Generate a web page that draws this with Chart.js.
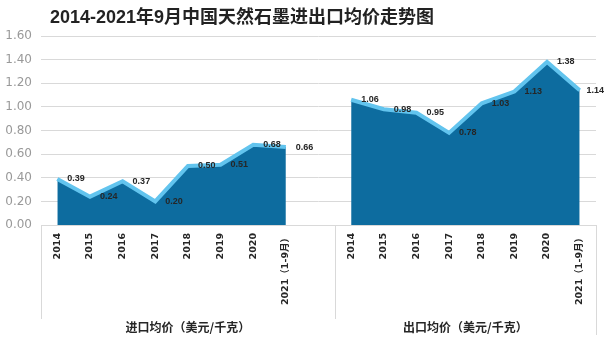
<!DOCTYPE html>
<html>
<head>
<meta charset="utf-8">
<script src="https://cdn.jsdelivr.net/npm/chart.js@4"></script>
<style>
  html, body { margin: 0; padding: 0; background: #fff; }
  #wrap { width: 608px; height: 350px; }
</style>
</head>
<body>
<div id="wrap"><canvas id="priceChart" width="608" height="350"></canvas></div>
<script>
// Chart texts
var chartTitle = '2014-2021年9月中国天然石墨进出口均价走势图';
var groupNames = ['进口均价（美元/千克）', '出口均价（美元/千克）'];

// Year labels, the same for both groups
var years = ['2014', '2015', '2016', '2017', '2018', '2019', '2020', '2021（1-9月）'];

// Average prices, USD per kg
var importPrice = [0.39, 0.24, 0.37, 0.20, 0.50, 0.51, 0.68, 0.66];
var exportPrice = [1.06, 0.98, 0.95, 0.78, 1.03, 1.13, 1.38, 1.14];

// Value axis
var yMin = 0;
var yMax = 1.6;
var yStep = 0.2;

// Colors
var areaColor = '#0d6c9f';
var edgeColor = '#62c4ee';
var gridColor = '#d9d9d9';
var textColor = '#262626';

// One empty slot closes the import group, then the export group follows
var labels = years.concat(['']).concat(years);
var gap = years.length + 1;
var importData = importPrice.concat(new Array(gap).fill(null));
var exportData = new Array(gap).fill(null).concat(exportPrice);
var groupStarts = [0, gap];
var groupEnds = [gap - 1, labels.length - 1];

// Value labels to the right of every point, title and group captions
var extrasPlugin = {
    id: 'extras',
    afterDatasetsDraw: function(chart) {
        var ctx = chart.ctx;
        ctx.save();
        ctx.font = 'bold 9px "Liberation Sans", Arial, sans-serif';
        ctx.fillStyle = textColor;
        ctx.textBaseline = 'middle';
        ctx.textAlign = 'left';
        chart.data.datasets.forEach(function(ds, i) {
            var meta = chart.getDatasetMeta(i);
            meta.data.forEach(function(pt, j) {
                var v = ds.data[j];
                if (v === null) return;
                var txt = v.toFixed(2);
                var w = ctx.measureText(txt).width;
                var x = Math.min(pt.x + 10, chart.width - w - 4);
                ctx.fillText(txt, x, pt.y);
            });
        });
        ctx.restore();
    },
    afterDraw: function(chart) {
        var ctx = chart.ctx;
        var xs = chart.scales.x;
        var area = chart.chartArea;
        var step = xs.getPixelForValue(1) - xs.getPixelForValue(0);
        ctx.save();

        // group separators below the axis
        ctx.strokeStyle = gridColor;
        ctx.lineWidth = 1;
        var bounds = [xs.getPixelForValue(0) - step / 2];
        groupEnds.forEach(function(e) { bounds.push(xs.getPixelForValue(e) + step / 2); });
        bounds.forEach(function(bx, k) {
            bx = Math.round(bx) + 0.5;
            ctx.beginPath();
            ctx.moveTo(bx, area.bottom);
            ctx.lineTo(bx, area.bottom + (k === bounds.length - 1 ? 110 : 94));
            ctx.stroke();
        });

        // group captions
        ctx.font = 'bold 12px "Noto Sans CJK SC", sans-serif';
        ctx.fillStyle = textColor;
        ctx.textAlign = 'center';
        ctx.textBaseline = 'middle';
        groupNames.forEach(function(name, g) {
            var left = xs.getPixelForValue(groupStarts[g]) - step / 2;
            var right = xs.getPixelForValue(groupEnds[g]) + step / 2;
            ctx.fillText(name, (left + right) / 2, area.bottom + 102);
        });

        // title
        ctx.font = 'bold 18px "Liberation Sans", "Noto Sans CJK SC", sans-serif';
        ctx.fillStyle = '#222';
        ctx.textAlign = 'left';
        ctx.fillText(chartTitle, 50, 18);
        ctx.restore();
    }
};

new Chart(document.getElementById('priceChart'), {
    type: 'line',
    data: {
        labels: labels,
        datasets: [{
            label: groupNames[0],
            data: importData,
            fill: 'origin',
            backgroundColor: areaColor,
            borderColor: edgeColor,
            borderWidth: 4,
            pointRadius: 0,
            tension: 0
        }, {
            label: groupNames[1],
            data: exportData,
            fill: 'origin',
            backgroundColor: areaColor,
            borderColor: edgeColor,
            borderWidth: 4,
            pointRadius: 0,
            tension: 0
        }]
    },
    options: {
        responsive: false,
        animation: false,
        layout: { padding: { top: 36, right: 12, left: 0, bottom: 0 } },
        plugins: {
            legend: { display: false },
            title: { display: false },
            tooltip: { enabled: false }
        },
        scales: {
            x: {
                offset: true,
                grid: { display: false, drawTicks: false },
                border: { display: true, color: gridColor },
                ticks: {
                    autoSkip: false,
                    minRotation: 90,
                    maxRotation: 90,
                    padding: 8,
                    color: textColor,
                    font: { family: '"DejaVu Sans", "Noto Sans CJK SC", sans-serif', size: 9.5, weight: 'bold' }
                },
                afterFit: function(scale) { scale.height = 125; }
            },
            y: {
                min: yMin,
                max: yMax,
                grid: { color: gridColor, drawTicks: false },
                border: { display: false },
                ticks: {
                    stepSize: yStep,
                    padding: 9,
                    color: '#999999',
                    font: { family: '"DejaVu Sans", sans-serif', size: 12 },
                    callback: function(v) { return v.toFixed(2); }
                },
                afterFit: function(scale) { scale.width = 41; }
            }
        }
    },
    plugins: [extrasPlugin]
});
</script>
</body>
</html>
